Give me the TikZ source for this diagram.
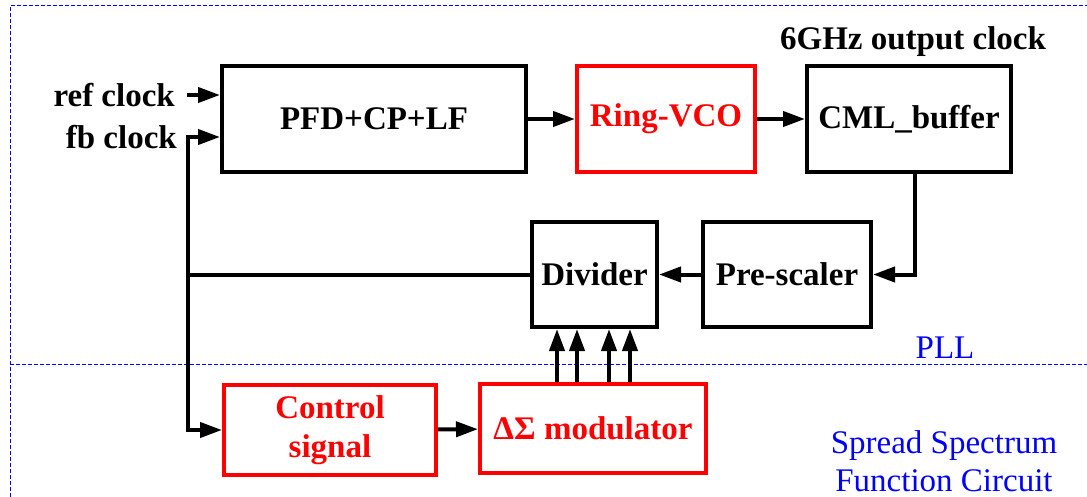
\documentclass[tikz,border=0pt]{standalone}
\usepackage{fontspec}
\setmainfont{Liberation Serif}
\usetikzlibrary{arrows.meta}
\definecolor{pred}{RGB}{255,0,0}
\definecolor{pblue}{RGB}{0,0,255}
\begin{document}
\begin{tikzpicture}[x=1pt,y=-1pt,
  blk/.style={draw=black,line width=4pt,inner sep=0pt,align=center,
    font=\fontsize{33}{39}\selectfont\bfseries,text=black},
  rblk/.style={blk,draw=pred,text=pred},
  lbl/.style={inner sep=0pt,font=\fontsize{33}{39}\selectfont\bfseries},
  bluelbl/.style={inner sep=0pt,align=center,text=pblue,font=\fontsize{33}{38}\selectfont},
  arr/.style={line width=4pt,-{Triangle[length=22pt,width=15pt]}},
  wire/.style={line width=4pt},
  region/.style={draw=pblue,line width=1pt,dash pattern=on 4pt off 2pt}]
\useasboundingbox (0,0) rectangle (1087,497);
% dashed region lines
\draw[region] (10,497) -- (10,6) -- (1087,6);
\draw[region] (10,364) -- (1087,364);
% blocks
\node[blk,minimum width=304pt,minimum height=106pt] (pfd) at (374,119) {PFD+CP+LF};
\node[rblk,minimum width=178pt,minimum height=106pt] (vco) at (666,119) {Ring-VCO};
\node[blk,minimum width=204pt,minimum height=106pt] (cml) at (909,119) {CML\_buffer};
\node[blk,minimum width=125pt,minimum height=105pt] (div) at (594.5,274.5) {Divider};
\node[blk,minimum width=168pt,minimum height=105pt] (pre) at (787,274.5) {Pre-scaler};
\node[rblk,minimum width=212pt,minimum height=90pt] (ctrl) at (330,430) {Control\\signal};
\node[rblk,minimum width=226pt,minimum height=89pt] (mod) at (593,428.5) {ΔΣ modulator};
% labels
\node[lbl,anchor=east] (ref) at (175,95) {ref clock};
\node[lbl,anchor=east] (fb) at (177,137) {fb clock};
\node[lbl] (out) at (913,42) {6GHz output clock};
\node[bluelbl] (pll) at (945,348) {PLL};
\node[bluelbl] (ssc) at (944,461) {Spread Spectrum\\Function Circuit};
% coordinates
\coordinate (refin) at (187,95);
\coordinate (fbin) at (188,137);
\coordinate (j) at (188,274.5);
\coordinate (cdown) at (915,172);
\coordinate (m1) at (557,0);
\coordinate (m2) at (577,0);
\coordinate (m3) at (609,0);
\coordinate (m4) at (630,0);
% connectors
\draw[arr] (refin) -- (refin -| pfd.west);
\draw[arr] (pfd) -- (vco);
\draw[arr] (vco) -- (cml);
\draw[arr] (cdown) |- (pre.east);
\draw[arr] (pre) -- (div);
\draw[wire] (div.west) -- (j);
\draw[arr] (j) -- (fbin) -- (fbin -| pfd.west);
\draw[arr] (j) |- (ctrl.west);
\draw[arr] (ctrl) -- (mod);
\foreach \m in {m1,m2,m3,m4}
  \draw[arr] (mod.north -| \m) -- (div.south -| \m);
\end{tikzpicture}
\end{document}
